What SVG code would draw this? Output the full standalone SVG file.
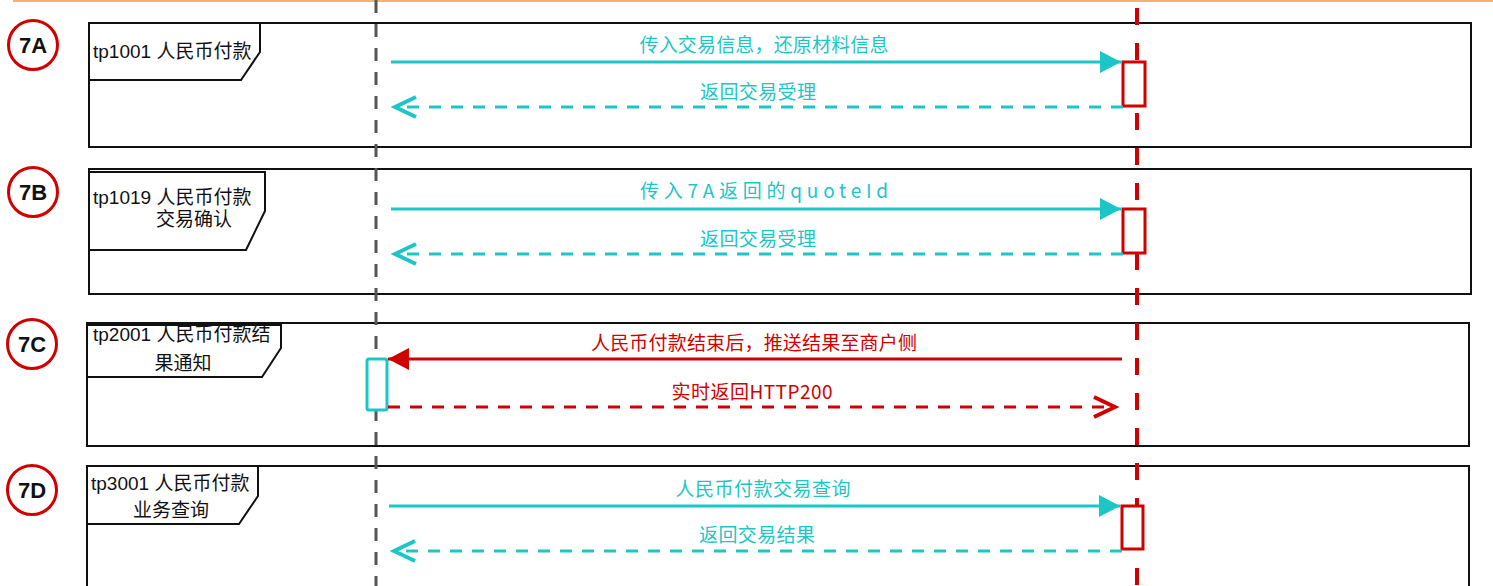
<svg xmlns="http://www.w3.org/2000/svg" width="1493" height="586" viewBox="0 0 1493 586">
<style>
.frame{fill:none;stroke:#111;stroke-width:2}
.tab{fill:#fff;stroke:#111;stroke-width:2}
.tabtxt{font-family:"Liberation Sans","Noto Sans CJK SC",sans-serif;font-size:19px;fill:#111}
.badge{fill:#fff;stroke:#d10000;stroke-width:3}
.badgetxt{font-family:"Liberation Sans",sans-serif;font-size:22px;font-weight:bold;fill:#111;text-anchor:middle}
.lbl{font-family:"Noto Sans CJK SC","Liberation Sans",sans-serif;font-size:19px;text-anchor:middle}
.cy{fill:#1cc6c6}
.rd{fill:#d10000}
.msg-c{stroke:#1cc6c6;stroke-width:3;fill:none}
.msg-r{stroke:#d10000;stroke-width:3;fill:none}
.dash{stroke-dasharray:12 10}
.act-r{fill:#fff;stroke:#d10000;stroke-width:3}
.act-c{fill:#fff;stroke:#1cc6c6;stroke-width:3}
</style>
<defs>
<marker id="triC" markerUnits="userSpaceOnUse" markerWidth="24" markerHeight="24" refX="21" refY="11" orient="auto"><path d="M0,0 L21,11 L0,22 Z" fill="#1cc6c6"/></marker>
<marker id="triR" markerUnits="userSpaceOnUse" markerWidth="24" markerHeight="24" refX="21" refY="11" orient="auto"><path d="M0,0 L21,11 L0,22 Z" fill="#d10000"/></marker>
<marker id="chevC" markerUnits="userSpaceOnUse" markerWidth="26" markerHeight="26" refX="22" refY="12" orient="auto"><path d="M1,2 L22,12 L1,22" fill="none" stroke="#1cc6c6" stroke-width="4"/></marker>
<marker id="chevR" markerUnits="userSpaceOnUse" markerWidth="26" markerHeight="26" refX="22" refY="12" orient="auto"><path d="M1,2 L22,12 L1,22" fill="none" stroke="#d10000" stroke-width="4"/></marker>
</defs>
<rect width="1493" height="586" fill="#fff"/>
<line x1="13" y1="1" x2="1493" y2="1" stroke="#f7b36e" stroke-width="2"/>

<g id="frame-7A">
<rect class="frame" x="89" y="23" width="1382" height="124"/>
<path class="tab" d="M89,23 L260,23 L260,52 L241,80 L89,80 Z"/>
<text class="tabtxt" x="93" y="58">tp1001 人民币付款</text>
<circle class="badge" cx="33" cy="45" r="24.5"/>
<text class="badgetxt" x="33" y="53">7A</text>
</g>
<g id="frame-7B">
<rect class="frame" x="89" y="169" width="1382" height="125"/>
<path class="tab" d="M89,172 L265,172 L265,211 L246,250 L89,250 Z"/>
<text class="tabtxt" x="93" y="204">tp1019 人民币付款</text>
<text class="tabtxt" x="194" y="226" text-anchor="middle">交易确认</text>
<circle class="badge" cx="33" cy="192" r="24.5"/>
<text class="badgetxt" x="33" y="200">7B</text>
</g>
<g id="frame-7C">
<rect class="frame" x="87" y="323" width="1382" height="123"/>
<path class="tab" d="M87,325 L281,325 L281,348 L262,377 L87,377 Z"/>
<text class="tabtxt" x="93" y="341">tp2001 人民币付款结</text>
<text class="tabtxt" x="183" y="370" text-anchor="middle">果通知</text>
<circle class="badge" cx="32" cy="344" r="24.5"/>
<text class="badgetxt" x="32" y="352">7C</text>
</g>
<g id="frame-7D">
<rect class="frame" x="87" y="466" width="1382" height="130"/>
<path class="tab" d="M87,466 L258,466 L258,496 L239,524 L87,524 Z"/>
<text class="tabtxt" x="91" y="490">tp3001 人民币付款</text>
<text class="tabtxt" x="171" y="517" text-anchor="middle">业务查询</text>
<circle class="badge" cx="32" cy="490" r="24.5"/>
<text class="badgetxt" x="32" y="498">7D</text>
</g>

<g id="lifelines">
<line x1="376" y1="0" x2="376" y2="586" stroke="#555" stroke-width="3" stroke-dasharray="13 11"/>
<line x1="1137" y1="8" x2="1137" y2="586" stroke="#d10000" stroke-width="4" stroke-dasharray="17 18"/>
</g>

<g id="activations">
<rect class="act-r" x="1123" y="62" width="22" height="44"/>
<rect class="act-r" x="1123" y="209" width="22" height="44"/>
<rect class="act-c" x="367" y="359" width="20" height="51" rx="2"/>
<rect class="act-r" x="1122" y="506" width="21" height="43"/>
</g>

<g id="connectors">
<line class="msg-c" x1="391" y1="62" x2="1121" y2="62" marker-end="url(#triC)"/>
<line class="msg-c dash" x1="1123" y1="107" x2="395" y2="107" marker-end="url(#chevC)"/>
<line class="msg-c" x1="391" y1="209" x2="1121" y2="209" marker-end="url(#triC)"/>
<line class="msg-c dash" x1="1123" y1="254" x2="395" y2="254" marker-end="url(#chevC)"/>
<line class="msg-r" x1="1122" y1="359" x2="388" y2="359" marker-end="url(#triR)"/>
<line class="msg-r dash" x1="388" y1="407" x2="1115" y2="407" marker-end="url(#chevR)"/>
<line class="msg-c" x1="389" y1="506" x2="1120" y2="506" marker-end="url(#triC)"/>
<line class="msg-c dash" x1="1122" y1="551" x2="394" y2="551" marker-end="url(#chevC)"/>
</g>

<g id="labels">
<text class="lbl cy" x="764" y="52" textLength="249" lengthAdjust="spacing">传入交易信息，还原材料信息</text>
<text class="lbl cy" x="758" y="99" textLength="116" lengthAdjust="spacing">返回交易受理</text>
<text class="lbl cy" x="764" y="198" textLength="248" lengthAdjust="spacing">传入7A返回的quoteId</text>
<text class="lbl cy" x="758" y="246" textLength="116" lengthAdjust="spacing">返回交易受理</text>
<text class="lbl rd" x="754" y="350" textLength="326" lengthAdjust="spacing">人民币付款结束后，推送结果至商户侧</text>
<text class="lbl rd" x="752" y="399" textLength="161" lengthAdjust="spacing">实时返回HTTP200</text>
<text class="lbl cy" x="763" y="496" textLength="175" lengthAdjust="spacing">人民币付款交易查询</text>
<text class="lbl cy" x="757" y="542" textLength="116" lengthAdjust="spacing">返回交易结果</text>
</g>
</svg>
